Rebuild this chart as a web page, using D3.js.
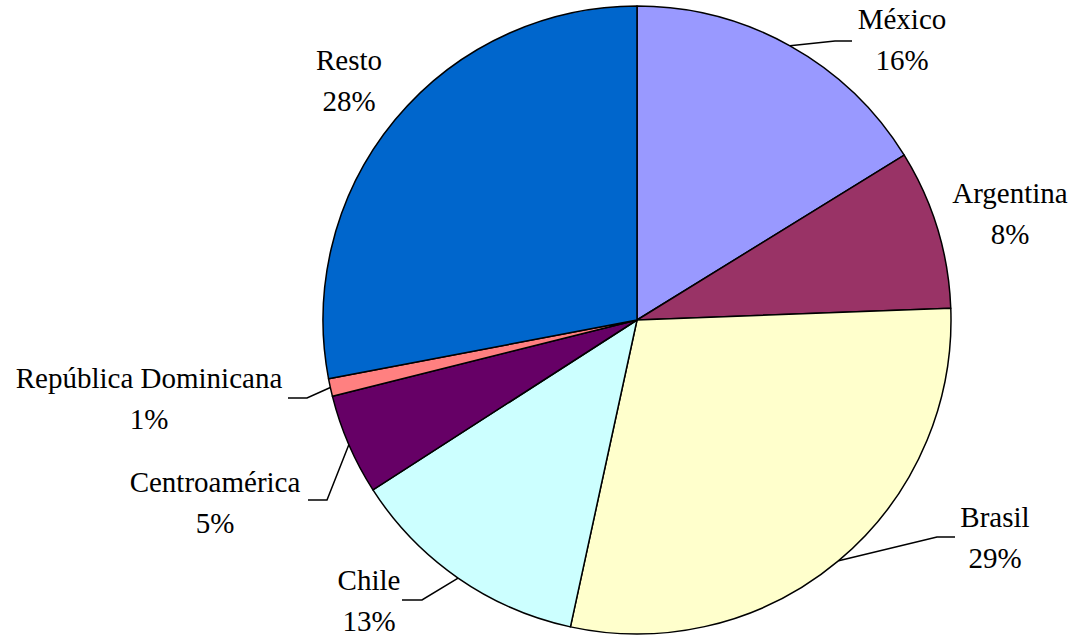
<!DOCTYPE html>
<html><head><meta charset="utf-8">
<script src="https://cdn.jsdelivr.net/npm/d3@7"></script>
<style>html,body{margin:0;padding:0;background:#fff;}svg{display:block;}
text.lbl{font-family:"Liberation Serif","Times New Roman",Times,"Nimbus Roman","DejaVu Serif",serif;font-size:29px;}</style>
</head><body>
<svg id="chart" width="1074" height="641"></svg>
<script>
const categories = ["México","Argentina","Brasil","Chile","Centroamérica","República Dominicana","Resto"];
const values = [16.2, 8.2, 29.0, 12.5, 5.2, 0.9, 28.0];
const colors = ["#9999FF","#993366","#FFFFCC","#CCFFFF","#660066","#FF8080","#0066CC"];

// label layout (text centre x, first baseline y; optional leader elbow/end)
const labelLayout = {
  "México": {x: 902, y: 29, elbow: [835, 41], end: [852, 41]},
  "Argentina": {x: 1010, y: 203},
  "Brasil": {x: 995, y: 527, elbow: [937, 537], end: [955, 537]},
  "Chile": {x: 369, y: 590, elbow: [422, 600], end: [402, 600]},
  "Centroamérica": {x: 215, y: 492, elbow: [327, 500], end: [308, 500]},
  "República Dominicana": {x: 149, y: 388, elbow: [307, 398], end: [288, 398]},
  "Resto": {x: 349, y: 70}
};

const cx = 637, cy = 320, r = 314;
const svg = d3.select("#chart");
const g = svg.append("g").attr("transform", `translate(${cx},${cy})`);

const data = categories.map((c, i) => ({name: c, value: values[i], color: colors[i]}));
const pie = d3.pie().value(d => d.value).sort(null);
const arc = d3.arc().innerRadius(0).outerRadius(r);
const arcs = pie(data);

g.selectAll("path.slice").data(arcs).join("path")
  .attr("class", "slice")
  .attr("d", arc)
  .attr("fill", d => d.data.color)
  .attr("stroke", "#000")
  .attr("stroke-width", 1.5)
  .attr("stroke-linejoin", "round");

// leader lines
arcs.forEach(a => {
  const L = labelLayout[a.data.name];
  if (!L.elbow) return;
  const mid = (a.startAngle + a.endAngle) / 2;
  const px = cx + r * Math.sin(mid), py = cy - r * Math.cos(mid);
  svg.append("polyline")
    .attr("points", `${px},${py} ${L.elbow[0]},${L.elbow[1]} ${L.end[0]},${L.end[1]}`)
    .attr("fill", "none").attr("stroke", "#000").attr("stroke-width", 1.5);
});

// labels
arcs.forEach(a => {
  const L = labelLayout[a.data.name];
  const t = svg.append("text")
    .attr("class", "lbl")
    .attr("text-anchor", "middle")
    .attr("fill", "#000");
  t.append("tspan").attr("x", L.x).attr("y", L.y).text(a.data.name);
  t.append("tspan").attr("x", L.x).attr("y", L.y + 41).text(Math.round(a.data.value) + "%");
});
</script>
</body></html>
